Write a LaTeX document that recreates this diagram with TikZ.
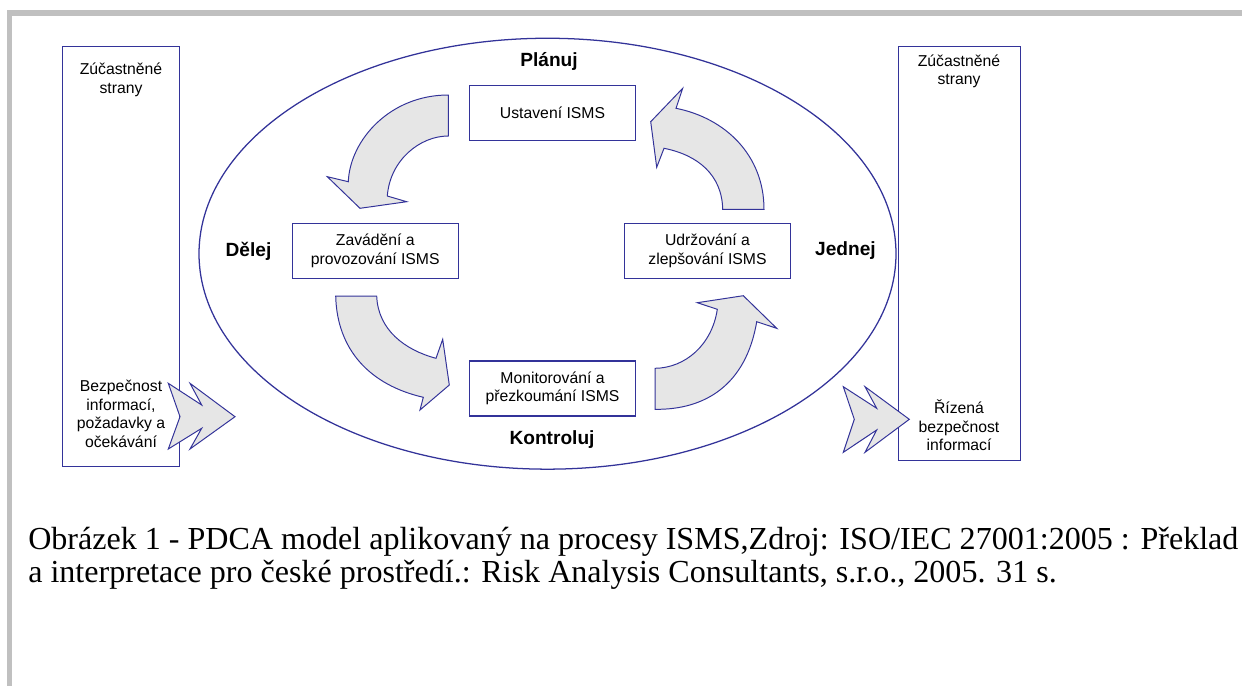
\documentclass[tikz,border=0pt]{standalone}
\usepackage{fontspec}
\setmainfont{Liberation Serif}
\setsansfont{Liberation Sans}
\usetikzlibrary{shapes.geometric}
\definecolor{isblue}{RGB}{51,51,153}
\definecolor{isfill}{RGB}{230,230,230}
\definecolor{isframe}{RGB}{192,192,192}
\begin{document}
\begin{tikzpicture}[x=0.025cm,y=-0.025cm,
    box/.style={draw=isblue,line width=0.9pt,minimum width=4.15cm,minimum height=1.375cm,
      align=center,font=\sffamily\fontsize{11.2}{13.2}\selectfont},
    txt/.style={align=center,font=\sffamily\fontsize{11.2}{13.2}\selectfont},
    phase/.style={font=\sffamily\bfseries\fontsize{13.6}{16}\selectfont},
    blockarrow/.style={draw=isblue,fill=isfill,line width=0.7pt,line join=miter}]
    \useasboundingbox (0,0) rectangle (1242,686);
    \fill[isframe] (7,10) rectangle (1242,16);
    \fill[isframe] (7,10) rectangle (12,686);
    \node at (547.5,253.7) [draw=isblue,line width=0.9pt,ellipse,minimum width=17.42cm,minimum height=10.77cm] (cycle) {};
    \node at (121,256.5) [draw=isblue,line width=0.9pt,minimum width=2.915cm,minimum height=10.48cm] (stranyL) {};
    \node at (959.3,253.7) [draw=isblue,line width=0.9pt,minimum width=3.05cm,minimum height=10.35cm] (stranyR) {};
    \node at (121,80) [txt] (zucL) {Zúčastněné\\strany};
    \node at (121,414) [txt] (vstup) {Bezpečnost\\informací,\\požadavky a\\očekávání};
    \node at (959,71.5) [txt] (zucR) {Zúčastněné\\strany};
    \node at (959,425.5) [txt] (vystup) {Řízená\\bezpečnost\\informací};
    \node at (552.5,113) [box] (ustaveni) {Ustavení ISMS};
    \node at (375.3,250.8) [box] (zavadeni) {Zavádění a\\provozování ISMS};
    \node at (707.5,250.8) [box] (udrzovani) {Udržování a\\zlepšování ISMS};
    \node at (552.5,388.5) [box] (monitor) {Monitorování a\\přezkoumání ISMS};
    \node at (549,61) [phase] (planuj) {Plánuj};
    \node at (248.5,251) [phase] (delej) {Dělej};
    \node at (845.5,251) [phase] (jednej) {Jednej};
    \node at (552,440) [phase] (kontroluj) {Kontroluj};
    \draw[blockarrow] (448.3,95) .. controls (390,95) and (350,140) .. (348.3,181.7) -- (327.3,176.7)
      -- (360,208.3) -- (406.7,201.7) -- (387.3,196) .. controls (390,160) and (420,136) .. (448.3,136) -- cycle;
    \draw[blockarrow] (722.7,209.3) -- (764,209.3) .. controls (764,155) and (725,118) .. (676,108.3)
      -- (682.7,88.3) -- (650.7,121.7) -- (656.7,167.3) -- (664,148.3) .. controls (698,155) and (722,175) .. (722.7,209.3) -- cycle;
    \draw[blockarrow] (335.7,296) -- (376.7,296) .. controls (378,330) and (405,350) .. (436,358.3)
      -- (442.7,339.3) -- (449.3,385) -- (420,410) -- (423.3,397.3) .. controls (370,385) and (337,350) .. (335.7,296) -- cycle;
    \draw[blockarrow] (655,409.3) -- (655,368.3) .. controls (685,368) and (712,345) .. (717.3,309.3)
      -- (697.3,302.7) -- (743.3,295.7) -- (776.7,328.3) -- (756.7,321.7) .. controls (746,385) and (705,410) .. (655,409.3) -- cycle;
    \draw[blockarrow] (168.3,383.3) -- (201.7,405) -- (190,383.3) -- (235,416.7) -- (190,449)
      -- (201.7,428.3) -- (168.3,449) -- (180,416.7) -- cycle;
    \draw[blockarrow] (843.3,386.7) -- (876.7,408.3) -- (865,386.7) -- (909.3,419.3) -- (865,452.3)
      -- (876.7,430) -- (843.3,452.3) -- (854.3,419.3) -- cycle;
    \node at (28,582) [anchor=base west,align=left,inner sep=0pt,font=\fontsize{22.8}{22.8}\selectfont] (popis)
      {Obrázek 1 - PDCA model aplikovaný na procesy ISMS,Zdroj: ISO/IEC 27001:2005 : Překlad\\
       a interpretace pro české prostředí.: Risk Analysis Consultants, s.r.o., 2005. 31 s.};
\end{tikzpicture}
\end{document}
